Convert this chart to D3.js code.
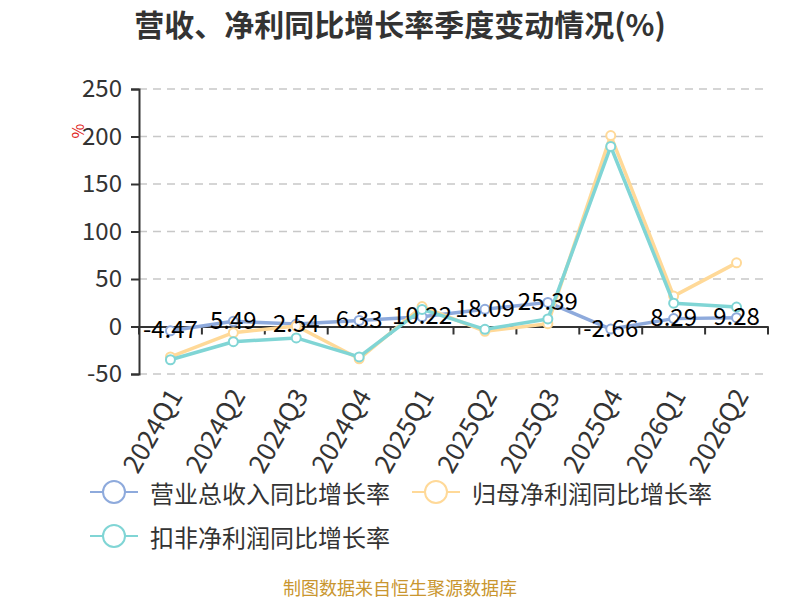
<!DOCTYPE html>
<html>
<head>
<meta charset="utf-8">
<script src="https://cdn.jsdelivr.net/npm/d3@7"></script>
<style>
  html, body { margin: 0; padding: 0; background: #fff; }
  svg { display: block; font-family: "Noto Sans CJK SC", "Noto Sans", sans-serif; }
</style>
</head>
<body>
<svg id="chart" width="800" height="600"></svg>
<script>
const categories = ["2024Q1","2024Q2","2024Q3","2024Q4","2025Q1","2025Q2","2025Q3","2025Q4","2026Q1","2026Q2"];
const revenueGrowth = [-4.47, 5.49, 2.54, 6.33, 10.22, 18.09, 25.39, -2.66, 8.29, 9.28];
const netProfitGrowth = [-32, -6.5, 0.5, -34, 21, -5, 3, 201, 32, 67];
const deductedProfitGrowth = [-35, -16, -12, -32, 18, -3, 8, 189.5, 24.5, 20.5];
const seriesNames = ["营业总收入同比增长率", "归母净利润同比增长率", "扣非净利润同比增长率"];
const seriesColors = ["#8eaadc", "#ffd998", "#80d5d5"];
const yTicks = [-50, 0, 50, 100, 150, 200, 250];
const titleText = "营收、净利同比增长率季度变动情况(%)";
const footerText = "制图数据来自恒生聚源数据库";

const svg = d3.select("#chart");
const x = d3.scaleBand().domain(categories).range([139, 768]);
const y = d3.scaleLinear().domain([-50, 250]).range([374, 89]);

// title
svg.append("text").attr("x", 400).attr("y", 23).attr("text-anchor", "middle")
  .attr("dominant-baseline", "central").attr("font-size", 30).attr("font-weight", "bold")
  .attr("fill", "#333").text(titleText);

// grid
svg.append("g").selectAll("line").data(yTicks.filter(d => d !== 0)).join("line")
  .attr("x1", x.range()[0]).attr("x2", x.range()[1])
  .attr("y1", d => y(d)).attr("y2", d => y(d))
  .attr("stroke", "#c8c8c8").attr("stroke-width", 1.5).attr("stroke-dasharray", "8,6");

// y axis
const yAxis = svg.append("g").attr("transform", `translate(${x.range()[0]},0)`)
  .call(d3.axisLeft(y).tickValues(yTicks).tickFormat(d => String(d)).tickSize(8).tickPadding(9));
yAxis.select(".domain").attr("stroke", "#333").attr("stroke-width", 2);
yAxis.selectAll(".tick line").attr("stroke", "#333").attr("stroke-width", 2);
yAxis.selectAll(".tick text").attr("font-size", 24).attr("fill", "#333")
  .attr("font-family", "\"Noto Sans CJK SC\", sans-serif");

// % unit
svg.append("text").attr("transform", "translate(77,131) rotate(-90)")
  .attr("text-anchor", "middle").attr("dominant-baseline", "central")
  .attr("font-size", 16).attr("fill", "#e02020").text("%");

// x axis at zero
const xAxis = svg.append("g").attr("transform", `translate(0,${y(0)})`)
  .call(d3.axisBottom(x).tickSize(0).tickFormat(""));
xAxis.select(".domain").attr("stroke", "#333").attr("stroke-width", 2);
const boundaries = categories.map(c => x(c)).concat([x.range()[1]]);
xAxis.append("g").selectAll("line").data(boundaries).join("line")
  .attr("x1", d => d).attr("x2", d => d).attr("y1", 0).attr("y2", 8)
  .attr("stroke", "#333").attr("stroke-width", 2);

// x labels
svg.append("g").selectAll("text").data(categories).join("text")
  .attr("transform", d => `translate(${x(d) + x.bandwidth() / 2 + 3},${390}) rotate(-60)`)
  .attr("text-anchor", "end").attr("dominant-baseline", "central")
  .attr("font-size", 26).attr("fill", "#333").text(d => d);

// series
const allSeries = [revenueGrowth, netProfitGrowth, deductedProfitGrowth];
const line = d3.line().x((d, i) => x(categories[i]) + x.bandwidth() / 2).y(d => y(d));
allSeries.forEach((vals, si) => {
  const g = svg.append("g");
  g.append("path").datum(vals).attr("d", line).attr("fill", "none")
    .attr("stroke", seriesColors[si]).attr("stroke-width", 3.5).attr("stroke-linejoin", "round");
  g.selectAll("circle").data(vals).join("circle")
    .attr("cx", (d, i) => x(categories[i]) + x.bandwidth() / 2).attr("cy", d => y(d))
    .attr("r", 4.5).attr("fill", "#fff").attr("stroke", seriesColors[si]).attr("stroke-width", 2);
});

// data labels for revenue
svg.append("g").selectAll("text").data(revenueGrowth).join("text")
  .attr("x", (d, i) => x(categories[i]) + x.bandwidth() / 2)
  .attr("y", d => y(d) - 3)
  .attr("text-anchor", "middle").attr("dominant-baseline", "central")
  .attr("font-size", 24).attr("fill", "#000").text(d => d);

// legend
const legendItems = [
  { name: seriesNames[0], color: seriesColors[0], x: 90, y: 492 },
  { name: seriesNames[1], color: seriesColors[1], x: 412, y: 492 },
  { name: seriesNames[2], color: seriesColors[2], x: 90, y: 536 }
];
const lg = svg.append("g").selectAll("g").data(legendItems).join("g")
  .attr("transform", d => `translate(${d.x},${d.y})`);
lg.append("line").attr("x1", 0).attr("x2", 48).attr("y1", 0).attr("y2", 0)
  .attr("stroke", d => d.color).attr("stroke-width", 2);
lg.append("circle").attr("cx", 24).attr("cy", 0).attr("r", 11)
  .attr("fill", "#fff").attr("stroke", d => d.color).attr("stroke-width", 2);
lg.append("text").attr("x", 60).attr("y", 0).attr("dominant-baseline", "central")
  .attr("font-size", 24).attr("fill", "#333").text(d => d.name);

// footer
svg.append("text").attr("x", 400).attr("y", 587).attr("text-anchor", "middle")
  .attr("dominant-baseline", "central").attr("font-size", 18).attr("fill", "#c9962f")
  .text(footerText);
</script>
</body>
</html>
